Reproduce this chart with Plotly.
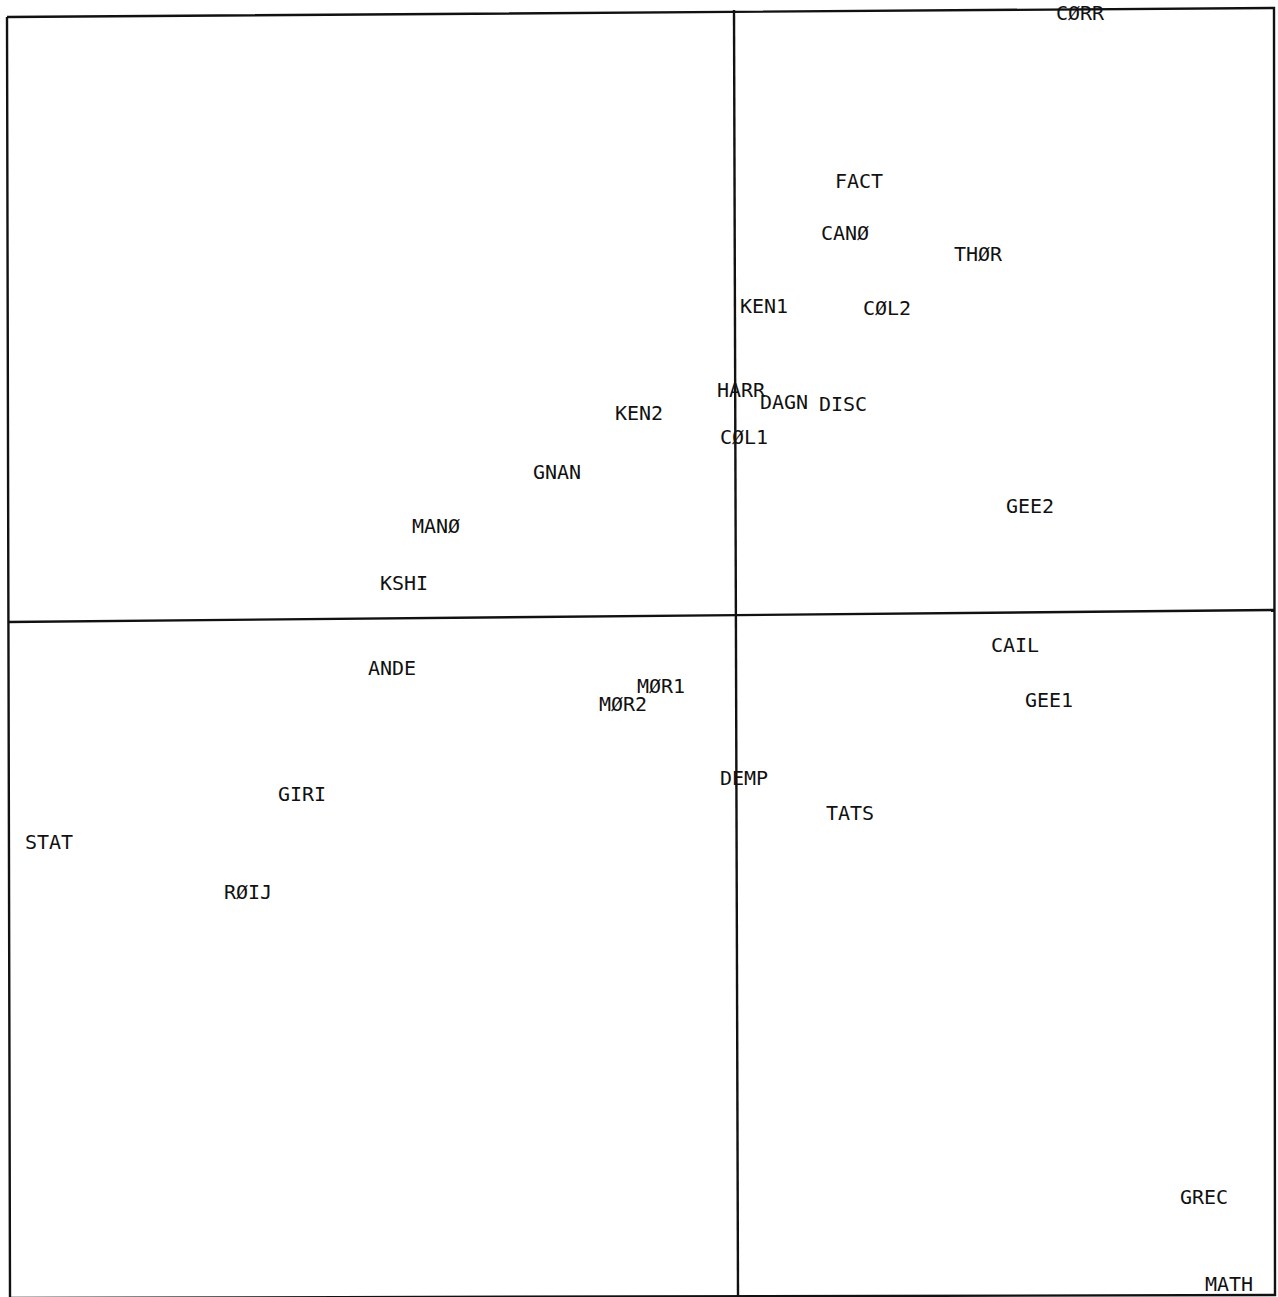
import plotly.graph_objects as go

# Row/column labels of the correspondence map and their coordinates on the
# first two factorial axes (label anchored at its left end).
labels = ["CØRR", "FACT", "CANØ", "THØR", "KEN1", "CØL2", "HARR", "DAGN", "DISC",
          "KEN2", "CØL1", "GNAN", "GEE2", "MANØ", "KSHI", "CAIL", "ANDE", "MØR1",
          "MØR2", "GEE1", "DEMP", "GIRI", "TATS", "STAT", "RØIJ", "GREC", "MATH"]
axis1 = [0.640, 0.198, 0.170, 0.436, 0.008, 0.254, -0.038, 0.048, 0.166,
         -0.242, -0.032, -0.406, 0.540, -0.648, -0.712, 0.510, -0.736, -0.198,
         -0.274, 0.578, -0.032, -0.916, 0.180, -1.422, -1.024, 0.888, 0.938]
axis2 = [1.202, 0.866, 0.762, 0.720, 0.616, 0.612, 0.448, 0.424, 0.420,
         0.402, 0.354, 0.284, 0.216, 0.176, 0.062, -0.062, -0.108, -0.144,
         -0.180, -0.172, -0.328, -0.360, -0.398, -0.456, -0.556, -1.166, -1.340]

# Plot window of the plotter page
x_range = [-1.472, 1.084]
y_range = [-1.362, 1.232]

# Hand-drawn frame and factorial axes (the plotted sheet sits slightly askew)
frame_x = [-1.458, 1.076, 1.078, -1.452, -1.458]
frame_y = [1.198, 1.216, -1.358, -1.364, 1.198]
hline_x = [-1.456, 1.076]
hline_y = [-0.012, 0.012]
vline_x = [-0.004, 0.004]
vline_y = [1.212, -1.360]

ink = "#111111"
fig = go.Figure()

for xs, ys in [(frame_x, frame_y), (hline_x, hline_y), (vline_x, vline_y)]:
    fig.add_trace(go.Scatter(x=xs, y=ys, mode="lines",
                             line=dict(color=ink, width=2.4),
                             hoverinfo="skip", showlegend=False))

fig.add_trace(go.Scatter(
    x=axis1, y=axis2, mode="text", text=labels,
    textposition="middle right",
    textfont=dict(family="DejaVu Sans Mono", size=20, color=ink),
    cliponaxis=False, showlegend=False,
))

fig.update_xaxes(range=x_range, visible=False, showgrid=False, zeroline=False)
fig.update_yaxes(range=y_range, visible=False, showgrid=False, zeroline=False)
fig.update_layout(
    width=1278, height=1297,
    margin=dict(l=0, r=0, t=0, b=0),
    paper_bgcolor="white", plot_bgcolor="white",
)

fig.write_html("out.html")
